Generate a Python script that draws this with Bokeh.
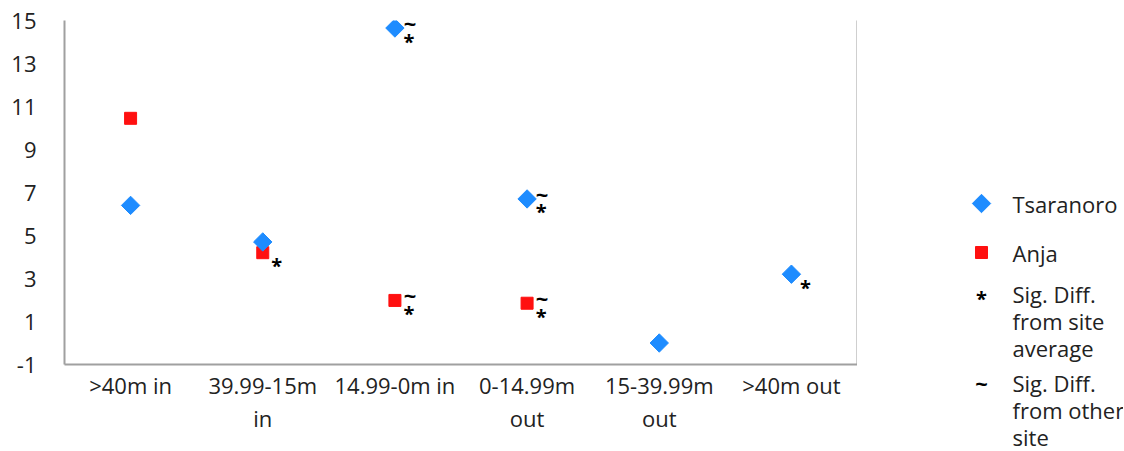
import numpy as np
from bokeh.plotting import figure
from bokeh.models import FactorRange, Range1d, FixedTicker, LinearAxis, ColumnDataSource
from bokeh.layouts import row
from bokeh.core.properties import value
from bokeh.embed import file_html
from bokeh.resources import INLINE

# ---- data ----
categories = [">40m in", "39.99-15m\nin", "14.99-0m in", "0-14.99m\nout", "15-39.99m\nout", ">40m out"]
tsaranoro = [6.4, 4.7, 14.65, 6.7, 0.0, 3.2]
anja = [10.45, 4.2, 1.98, 1.85, None, None]
tsar_sig_site = [False, False, True, True, False, True]
tsar_sig_other = [False, False, True, True, False, False]
anja_sig_site = [False, True, True, True, False, False]
anja_sig_other = [False, False, True, True, False, False]
y_ticks = [-1, 1, 3, 5, 7, 9, 11, 13, 15]

FONT = "Open Sans"
BLUE = "#1E8CFF"
RED = "#FF1010"
GREY = "#A0A0A0"
TXT = "#222222"
TOP = 20

p = figure(x_range=FactorRange(*categories, range_padding=0), y_range=Range1d(-1, 15),
           frame_width=793, frame_height=344, min_border_left=64, min_border_top=TOP,
           min_border_bottom=86, min_border_right=0,
           output_backend="svg", toolbar_location=None)
p.outline_line_color = None
p.xgrid.grid_line_color = None
p.ygrid.grid_line_color = None

for ax in (p.xaxis[0], p.yaxis[0]):
    ax.axis_line_color = GREY
    ax.axis_line_width = 2
    ax.major_tick_line_color = None
    ax.minor_tick_line_color = None
    ax.major_tick_out = 0
    ax.major_tick_in = 0
    ax.major_label_text_font = FONT
    ax.major_label_text_font_size = "22px"
    ax.major_label_text_color = TXT
p.yaxis.ticker = FixedTicker(ticks=y_ticks)
p.yaxis.major_label_overrides = {t: str(t) for t in y_ticks}
p.yaxis.major_label_standoff = 28
p.xaxis.major_label_standoff = 5
p.xaxis.major_label_text_line_height = 1.1

right_ax = LinearAxis(ticker=FixedTicker(ticks=[]), axis_line_color=GREY, axis_line_width=2,
                      major_tick_line_color=None, minor_tick_line_color=None)
p.add_layout(right_ax, "right")

# series
ts = ColumnDataSource(dict(x=categories, y=tsaranoro))
ax_ = [c for c, v in zip(categories, anja) if v is not None]
ay_ = [v for v in anja if v is not None]
an = ColumnDataSource(dict(x=ax_, y=ay_))
p.scatter("x", "y", source=an, marker="square", size=12, fill_color=RED, line_color=RED)
p.scatter("x", "y", source=ts, marker="square", angle=np.pi / 4, size=13, fill_color=BLUE, line_color=BLUE)

def marks(cats, vals, flags, sym, dx, dy, size):
    xs = [c for c, v, f in zip(cats, vals, flags) if f and v is not None]
    ys = [v for c, v, f in zip(cats, vals, flags) if f and v is not None]
    p.text(xs, ys, text=[sym] * len(xs), x_offset=dx, y_offset=dy,
           text_font=value(FONT), text_font_size=size, text_font_style="bold",
           text_align="center", text_baseline="middle", text_color="black")

marks(categories, tsaranoro, tsar_sig_site, "*", 14, 13, "20px")
marks(categories, anja, anja_sig_site, "*", 14, 13, "20px")
marks(categories, tsaranoro, tsar_sig_other, "~", 15, -5, "22px")
marks(categories, anja, anja_sig_other, "~", 15, -5, "22px")

# legend panel (pixel coordinates of the page, y downward)
LW, LH = 266, 431
leg = figure(frame_width=LW, frame_height=LH, x_range=Range1d(0, LW), y_range=Range1d(TOP + LH, TOP),
             x_axis_type=None, y_axis_type=None, min_border=0, min_border_top=TOP,
             output_backend="svg", toolbar_location=None)
leg.grid.visible = False
leg.outline_line_color = None

MX, TX = 124, 155
leg.scatter([MX], [203], marker="square", angle=np.pi / 4, size=13, fill_color=BLUE, line_color=BLUE)
leg.scatter([MX], [252], marker="square", size=12, fill_color=RED, line_color=RED)
leg.text([MX], [292], text=["*"], y_offset=6, text_font=value(FONT), text_font_size="20px",
         text_font_style="bold", text_align="center", text_baseline="middle", text_color="black")
leg.text([MX], [382], text=["~"], text_font=value(FONT), text_font_size="22px",
         text_font_style="bold", text_align="center", text_baseline="middle", text_color="black")
labels = ["Tsaranoro", "Anja", "Sig. Diff.\nfrom site\naverage", "Sig. Diff.\nfrom other\nsite"]
ly = [203, 252, 320, 409]
leg.text([TX] * 4, ly, text=labels, text_font=value(FONT), text_font_size="22px",
         text_align="left", text_baseline="middle", text_color=TXT, text_line_height=0.9)

layout = row(p, leg, spacing=0)
open("out.html", "w").write(file_html(layout, INLINE))
